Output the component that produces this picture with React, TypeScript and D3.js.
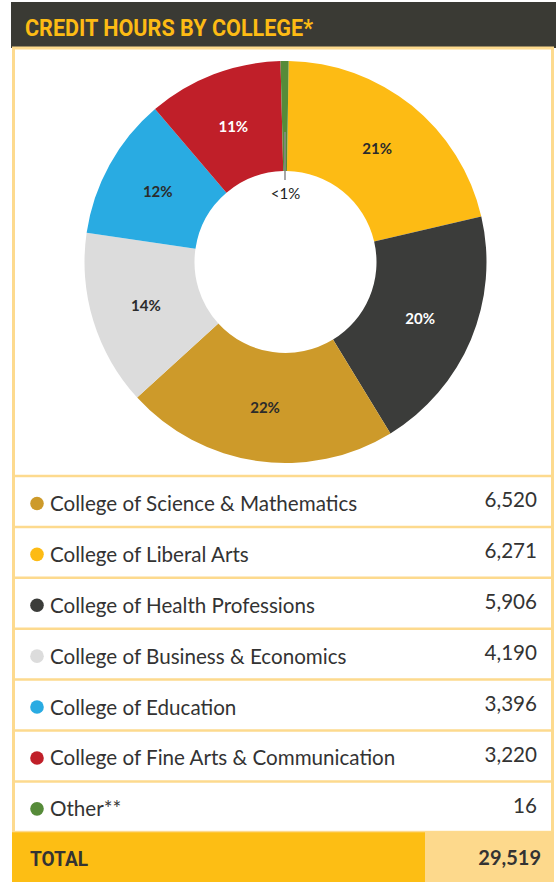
import React from "react";
import * as d3 from "d3";

const categories = [
  "College of Science & Mathematics",
  "College of Liberal Arts",
  "College of Health Professions",
  "College of Business & Economics",
  "College of Education",
  "College of Fine Arts & Communication",
  "Other**",
];
const values = [6520, 6271, 5906, 4190, 3396, 3220, 16];
const colors = ["#cd9a2a", "#fdbb14", "#3b3c3a", "#dcdcdc", "#29abe2", "#c01f29", "#568b39"];
const pieOrder = [1, 2, 0, 3, 4, 5, 6];
const darkSlices = [2, 5];
const title = "CREDIT HOURS BY COLLEGE*";
const totalLabel = "TOTAL";

const W = 556;
const H = 882;
const fmt = d3.format(",");

export default function App() {
  const total = d3.sum(values);
  const cx = 285.5;
  const cy = 262;
  const rOuter = 201;
  const rInner = 91;
  const minShare = 0.0065;
  const deg = Math.PI / 180;

  const pieData = pieOrder.map((i) => ({ i, value: values[i] }));
  const arcs = d3
    .pie<any>()
    .sort(null)
    .value((d) => Math.max(d.value, total * minShare))
    .startAngle(0.9 * deg)
    .endAngle(360.9 * deg)(pieData);
  const arc = d3.arc<any>().innerRadius(rInner).outerRadius(rOuter);
  const labelArc = d3.arc<any>().innerRadius(146).outerRadius(146);

  const tableTop = 476;
  const rowH = 50.9;
  const rowY = d3.scaleLinear().domain([0, 1]).range([tableTop, tableTop + rowH]);
  const totalTop = rowY(categories.length);

  const pct = (v: number) => {
    const p = (v / total) * 100;
    return p < 1 ? "<1%" : Math.round(p) + "%";
  };

  const font = "Lato, 'Open Sans', sans-serif";
  const narrow = "'Liberation Sans Narrow', 'Roboto', sans-serif";
  const border = "#fdda8e";

  return (
    <svg
      width={W}
      height={H}
      style={{ position: "absolute", left: 0, top: 0, background: "#fff" }}
    >
      {/* header */}
      <rect x={11} y={2} width={W - 11} height={46} fill="#3a3a34" />
      <text
        x={25}
        y={36}
        fill="#fdbb14"
        fontFamily={narrow}
        fontWeight={700}
        fontSize={24}
        textLength={288}
        lengthAdjust="spacingAndGlyphs"
      >
        {title}
      </text>

      {/* chart box */}
      <rect x={13.5} y={48} width={539} height={totalTop - 48} fill="none" stroke={border} strokeWidth={3} />

      {/* donut */}
      <g transform={`translate(${cx},${cy})`}>
        {arcs.map((a) => (
          <path key={a.data.i} d={arc(a) || ""} fill={colors[a.data.i]} />
        ))}
        {arcs.map((a) => {
          const i = a.data.i;
          if (values[i] / total < 0.01) {
            const mid = (a.startAngle + a.endAngle) / 2;
            const x = Math.sin(mid) * 1;
            return (
              <g key={"l" + i}>
                <line
                  x1={x - 0.5}
                  x2={x - 0.5}
                  y1={-130}
                  y2={-82}
                  stroke="#8a8a8a"
                  strokeWidth={1.5}
                />
                <text
                  x={x}
                  y={-63}
                  textAnchor="middle"
                  fontFamily={font}
                  fontSize={15}
                  fill="#222"
                >
                  {pct(values[i])}
                </text>
              </g>
            );
          }
          const [lx, ly] = labelArc.centroid(a);
          return (
            <text
              key={"l" + i}
              x={lx}
              y={ly + 6}
              textAnchor="middle"
              fontFamily={font}
              fontWeight={700}
              fontSize={15}
              fill={darkSlices.includes(i) ? "#ffffff" : "#2b2b2b"}
            >
              {pct(values[i])}
            </text>
          );
        })}
      </g>

      {/* table rows */}
      {categories.map((c, i) => {
        const y0 = rowY(i);
        const mid = y0 + rowH / 2;
        return (
          <g key={c}>
            <line x1={12} x2={554} y1={y0} y2={y0} stroke={border} strokeWidth={2.5} />
            <circle cx={37} cy={mid + 2} r={6.8} fill={colors[i]} />
            <text x={50} y={mid + 9.5} fontFamily={font} fontSize={20.6} fill="#333">
              {c}
            </text>
            <text x={537} y={mid + 6} textAnchor="end" fontFamily={font} fontSize={20.6} fill="#333">
              {fmt(values[i])}
            </text>
          </g>
        );
      })}

      {/* total row */}
      <rect x={12} y={totalTop} width={413} height={H - totalTop} fill="#fdbe14" />
      <rect x={425} y={totalTop} width={W - 2 - 425} height={H - totalTop} fill="#fdd98c" />
      <text
        x={30}
        y={totalTop + 34}
        fontFamily={narrow}
        fontWeight={700}
        fontSize={21}
        fill="#333"
        textLength={58}
        lengthAdjust="spacingAndGlyphs"
      >
        {totalLabel}
      </text>
      <text
        x={541}
        y={totalTop + 33}
        textAnchor="end"
        fontFamily={font}
        fontWeight={700}
        fontSize={20}
        fill="#333"
      >
        {fmt(total)}
      </text>
    </svg>
  );
}
